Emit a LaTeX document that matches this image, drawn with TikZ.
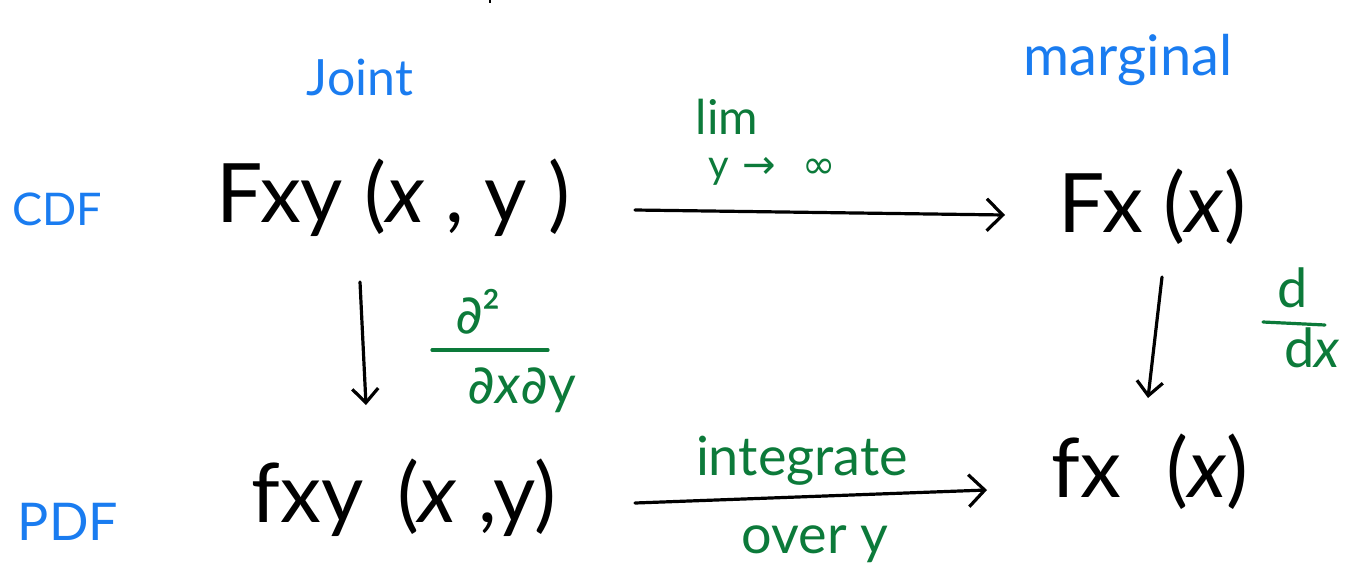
\documentclass[tikz,border=0pt]{standalone}
\usepackage{fontspec}
\setmainfont{Lato}
\newfontfamily\sym{DejaVu Sans}
\usetikzlibrary{arrows.meta}
\definecolor{hblue}{RGB}{26,124,240}
\definecolor{hgreen}{RGB}{12,122,58}
\begin{document}
\begin{tikzpicture}[x=1pt,y=-1pt,
  main/.style={font=\fontsize{82}{84}\selectfont, text=black, inner sep=0pt, anchor=base},
  lab/.style={font=\fontsize{50}{52}\selectfont, text=hblue, inner sep=0pt, anchor=base},
  note/.style={font=\fontsize{54}{56}\selectfont, text=hgreen, inner sep=0pt, anchor=base},
  arr/.style={line width=3.2pt, line cap=round, -{Straight Barb[length=16pt,width=32pt,line width=3.2pt]}},
  darr/.style={line width=3.2pt, line cap=round, -{Straight Barb[length=14pt,width=26pt,line width=3.2pt]}},
  bar/.style={line width=3.2pt, line cap=round, hgreen}]
\useasboundingbox (0,0) rectangle (1349,563);
\draw[line width=2.5pt] (490,0) -- (490,2.5);
% row / column labels
\node[lab] (joint) at (360,95) {Joint};
\node[lab, font=\fontsize{56}{58}\selectfont] (marg) at (1128,75) {marginal};
\node[lab, font=\fontsize{45}{47}\selectfont] (cdf) at (57,225) {CDF};
\node[lab, font=\fontsize{52}{54}\selectfont] (pdf) at (68,540) {PDF};
% main terms
\node[main] (Fxy) at (393,222) {Fxy (\textit{x} , y )};
\node[main] (Fx) at (1152,232) {Fx (\textit{x})};
\node[main] (fxy) at (404,522) {fxy\hspace{0.15em} (\textit{x} ,y)};
\node[main] (fx) at (1150,497) {fx\hspace{0.3em} (\textit{x})};
% green notes
\node[note, font=\fontsize{48}{50}\selectfont] (lim) at (727,134) {lim};
\node[note, font=\fontsize{40}{42}\selectfont] (yinf) at (772,178) {y\hspace{0.1em} {\sym→}\hspace{0.4em} {\sym∞}};
\node[note] (integ) at (802,475) {integrate};
\node[note] (overy) at (815,553) {over y};
\node[note] (d2) at (478,333) {{\sym∂}²};
\node[note] (dxdy) at (522,403) {{\sym∂}\textit{x}{\sym∂}y};
\draw[bar] (432,350) -- (548,350);
\node[note] (dnum) at (1293,307) {d};
\node[note] (ddx) at (1312,367) {d\textit{x}};
\draw[bar] (1263,322) -- (1325,325);
% arrows
\draw[arr] ([xshift=242pt,yshift=12pt]Fxy.base) -- ([xshift=-147pt,yshift=17pt]Fx.base);
\draw[arr] ([xshift=231pt,yshift=19pt]fxy.base) -- ([xshift=-163pt,yshift=7pt]fx.base);
\draw[darr] ([xshift=-33pt,yshift=-60pt]Fxy.base) -- ([xshift=-38pt,yshift=117pt]fxy.base);
\draw[darr] ([xshift=10pt,yshift=-45pt]Fx.base) -- ([xshift=-2pt,yshift=99pt]fx.base);
\end{tikzpicture}
\end{document}
